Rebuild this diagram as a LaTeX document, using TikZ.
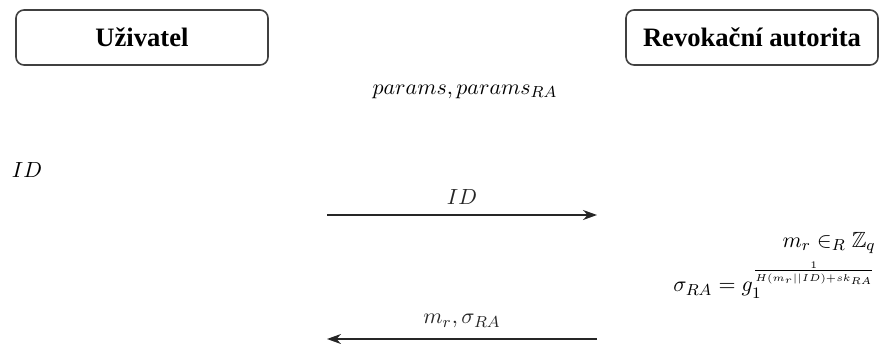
\documentclass[tikz,border=0pt]{standalone}
\usepackage{amsmath,amssymb}
\usepackage{fontspec}
\newfontfamily\boxfont{Liberation Serif}
\usepackage{tikz}
\usetikzlibrary{arrows.meta,positioning}

\begin{document}
\begin{tikzpicture}[
  x=0.5pt, y=-0.5pt,
  party/.style={draw=black!75, line width=0.8pt, rounded corners=4pt,
    minimum width=126pt, minimum height=27.5pt, inner sep=0pt,
    font=\boxfont\bfseries\fontsize{13.3}{16}\selectfont},
  lab/.style={inner sep=1pt, font=\fontsize{11}{13}\selectfont},
  msg/.style={-{Stealth[length=7pt,width=5pt]}, line width=0.8pt, black!85}
]
\useasboundingbox (0,0) rectangle (881,343);

\node[party] (user) at (142,37.5) {Uživatel};
\node[party] (ra) at (752,37.5) {Revokační autorita};

\node[lab] (params) at (465,92) {$params, params_{RA}$};
\node[lab] (uid) at (27,170) {$ID$};

% user -> RA
\coordinate (s1) at (327,215);
\coordinate (e1) at (597,215);
\draw[msg] (s1) -- (e1) node[midway, lab, above=4pt] (lid) {$ID$};

% RA side
\node[lab, anchor=east] (mr) at (878,243) {$m_r \in_R \mathbb{Z}_q$};
\node[lab, anchor=east] (sig) at (878,280) {$\sigma_{RA} = g_1^{\frac{1}{H(m_r||ID)+sk_{RA}}}$};

% RA -> user
\coordinate (s2) at (597,339);
\coordinate (e2) at (327,339);
\draw[msg] (s2) -- (e2) node[midway, lab, above=4pt] (lsig) {$m_r, \sigma_{RA}$};
\end{tikzpicture}
\end{document}
